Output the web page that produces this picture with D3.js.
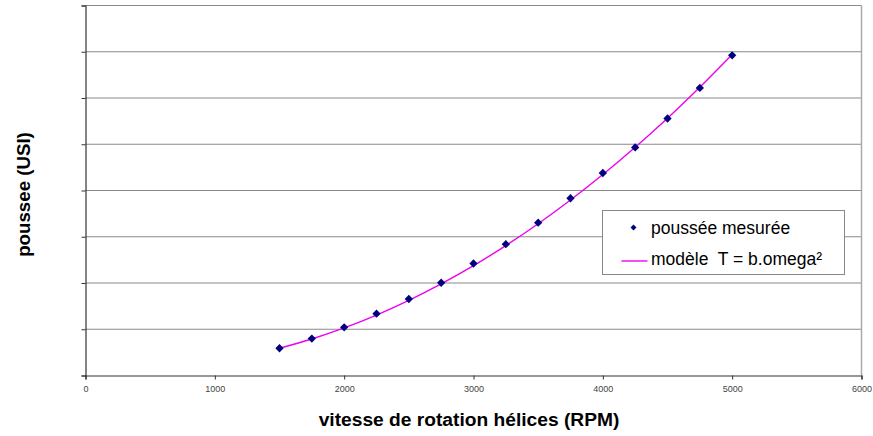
<!DOCTYPE html>
<html><head><meta charset="utf-8">
<script src="https://cdn.jsdelivr.net/npm/d3@7"></script>
<style>body{margin:0;background:#fff}svg{display:block}text{font-family:"Liberation Sans",Arial,sans-serif;white-space:pre}</style>
</head><body><svg id="c" width="873" height="436"></svg>
<script>
const rpm = [1500,1750,2000,2250,2500,2750,3000,3250,3500,3750,4000,4250,4500,4750,5000];
const measured = [0.589,0.798,1.042,1.337,1.654,2.006,2.422,2.840,3.304,3.832,4.378,4.932,5.557,6.217,6.923];
const model = [0.59,0.79,1.029,1.307,1.624,1.98,2.375,2.809,3.282,3.794,4.345,4.935,5.564,6.232,6.939];
const xTicks = [0,1000,2000,3000,4000,5000,6000];
const yTicks = [0,1,2,3,4,5,6,7,8];
const legendLabels = ["poussée mesurée","modèle  T = b.omega²"];
const xTitle = "vitesse de rotation hélices (RPM)";
const yTitle = "poussee (USI)";

const svg = d3.select("#c");
const L=85.5,R=861.5,T=5.5,B=375.5;
const x = d3.scaleLinear().domain([0,6000]).range([L,R]);
const y = d3.scaleLinear().domain([0,8]).range([B,T]);

// gridlines
svg.append("g").selectAll("line").data(yTicks.filter(d=>d>0)).join("line")
  .attr("x1",L).attr("x2",R).attr("y1",d=>y(d)).attr("y2",d=>y(d))
  .attr("stroke","#8a8a8a").attr("stroke-width",1.2);
// right border
svg.append("line").attr("x1",R).attr("x2",R).attr("y1",T).attr("y2",B)
  .attr("stroke","#aaa").attr("stroke-width",1.5);

// axes
const gx = svg.append("g").attr("transform",`translate(0,${B})`)
  .call(d3.axisBottom(x).tickValues(xTicks).tickSize(4).tickPadding(6).tickFormat(d3.format("d")));
gx.select(".domain").attr("stroke","#333").attr("stroke-width",1.2);
gx.selectAll(".tick line").attr("stroke","#333");
gx.selectAll("text").attr("font-size","9px").attr("fill","#444")
  .attr("font-family","'Liberation Sans',Arial,sans-serif");

const gy = svg.append("g").attr("transform",`translate(${L},0)`)
  .call(d3.axisLeft(y).tickValues(yTicks).tickSize(4).tickFormat(""));
gy.select(".domain").attr("stroke","#333").attr("stroke-width",1.2);
gy.selectAll(".tick line").attr("stroke","#333");

// model line
const line = d3.line().x((d,i)=>x(rpm[i])).y(d=>y(d)).curve(d3.curveCatmullRom);
svg.append("path").datum(model).attr("d",line).attr("fill","none")
  .attr("stroke","#ee00ee").attr("stroke-width",1.4);

// measured points
const sym = d3.symbol().type(d3.symbolDiamond2).size(44);
svg.append("g").selectAll("path").data(measured).join("path")
  .attr("d",sym).attr("transform",(d,i)=>`translate(${x(rpm[i])},${y(d)})`)
  .attr("fill","#000080");

// legend
const lg = svg.append("g");
lg.append("rect").attr("x",602.5).attr("y",210.5).attr("width",242).attr("height",64)
  .attr("fill","#fff").attr("stroke","#888").attr("stroke-width",1);
lg.append("path").attr("d",d3.symbol().type(d3.symbolDiamond2).size(22))
  .attr("transform","translate(633.5,227.5)").attr("fill","#000080");
lg.append("line").attr("x1",621.5).attr("x2",647.5).attr("y1",261).attr("y2",261)
  .attr("stroke","#ee00ee").attr("stroke-width",1.4);
lg.selectAll("text").data(legendLabels).join("text")
  .attr("x",651).attr("y",(d,i)=>i?264.5:233.5).attr("xml:space","preserve")
  .attr("font-size","17.5px").attr("fill","#000").text(d=>d);

// titles
svg.append("text").attr("x",469).attr("y",426).attr("text-anchor","middle")
  .attr("font-size","19.2px").attr("font-weight","bold").text(xTitle);
svg.append("text").attr("transform","translate(29.5,194.5) rotate(-90)").attr("text-anchor","middle")
  .attr("font-size","18.7px").attr("font-weight","bold").text(yTitle);
</script></body></html>
